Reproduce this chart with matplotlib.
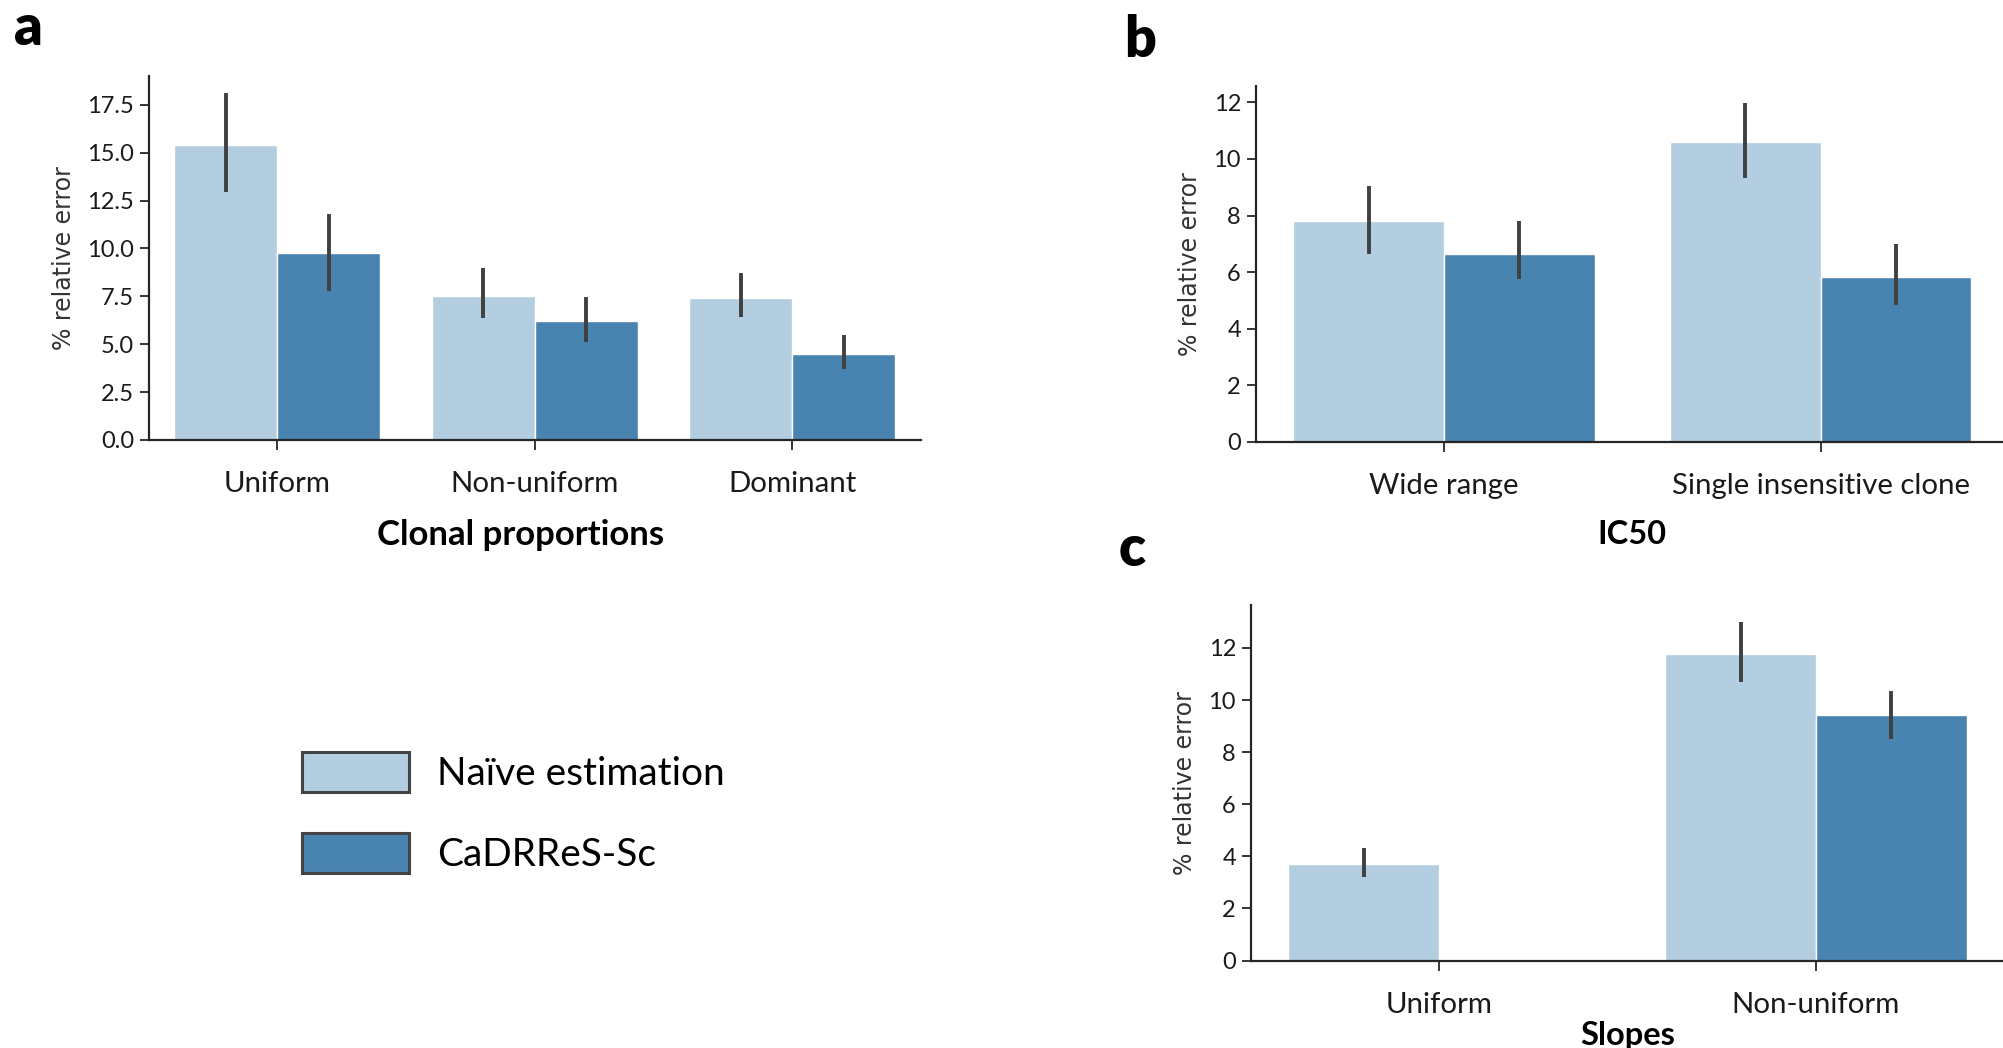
import numpy as np
import matplotlib
matplotlib.use("Agg")
import matplotlib.pyplot as plt
from matplotlib.patches import Patch

plt.rcParams['font.family'] = ['Lato', 'DejaVu Sans']

LIGHT = '#b3cee0'
DARK = '#4983b0'
ERR = '#404040'
SPINE = '#262626'

series_names = ['Naïve estimation', 'CaDRReS-Sc']

# a: clonal proportions
clonal_cats = ['Uniform', 'Non-uniform', 'Dominant']
clonal_naive = [15.40, 7.54, 7.43]
clonal_naive_lo = [12.95, 6.35, 6.41]
clonal_naive_hi = [18.10, 8.97, 8.70]
clonal_cadrres = [9.74, 6.21, 4.50]
clonal_cadrres_lo = [7.78, 5.13, 3.72]
clonal_cadrres_hi = [11.79, 7.45, 5.46]
clonal_yticks = [0, 2.5, 5, 7.5, 10, 12.5, 15, 17.5]

# b: IC50
ic50_cats = ['Wide range', 'Single insensitive clone']
ic50_naive = [7.79, 10.58]
ic50_naive_lo = [6.64, 9.31]
ic50_naive_hi = [9.04, 11.96]
ic50_cadrres = [6.64, 5.83]
ic50_cadrres_lo = [5.76, 4.85]
ic50_cadrres_hi = [7.82, 6.99]
ic50_yticks = [0, 2, 4, 6, 8, 10, 12]

# c: slopes (no CaDRReS-Sc bar for the uniform case)
slope_cats = ['Uniform', 'Non-uniform']
slope_naive = [3.70, 11.78]
slope_naive_lo = [3.20, 10.68]
slope_naive_hi = [4.34, 13.00]
slope_cadrres = [np.nan, 9.41]
slope_cadrres_lo = [np.nan, 8.52]
slope_cadrres_hi = [np.nan, 10.34]
slope_yticks = [0, 2, 4, 6, 8, 10, 12]


def grouped_bars(ax, cats, groups, yticks, fmt, xlabel, xlabel_size,
                 xlabel_pad):
    x = np.arange(len(cats))
    width = 0.4
    offsets = [-width / 2, width / 2]
    colors = [LIGHT, DARK]
    top = 0
    for (vals, lo, hi), off, col in zip(groups, offsets, colors):
        vals = np.asarray(vals, float)
        lo = np.asarray(lo, float)
        hi = np.asarray(hi, float)
        ok = ~np.isnan(vals)
        ax.bar(x[ok] + off, vals[ok], width, color=col,
               edgecolor='white', linewidth=1.0, zorder=2)
        ax.vlines(x[ok] + off, lo[ok], hi[ok], color=ERR,
                  linewidth=2.8, zorder=3)
        top = max(top, np.nanmax(hi))
    ax.set_xlim(-0.5, len(cats) - 0.5)
    ax.set_ylim(0, top * 1.05)
    ax.set_xticks(x)
    ax.set_xticklabels(cats, fontsize=21.2)
    ax.set_yticks(yticks)
    ax.set_yticklabels([fmt.format(v) for v in yticks], fontsize=17)
    ax.set_ylabel('% relative error', family='DejaVu Sans', fontsize=17,
                  color='#333333', labelpad=8)
    ax.set_xlabel(xlabel, fontsize=xlabel_size, fontweight='bold',
                  labelpad=xlabel_pad)
    for s in ('top', 'right'):
        ax.spines[s].set_visible(False)
    for s in ('left', 'bottom'):
        ax.spines[s].set_color(SPINE)
        ax.spines[s].set_linewidth(1.6)
    ax.tick_params(axis='x', length=7, width=1.3, color=SPINE, pad=15.5,
                   colors='#1a1a1a')
    ax.tick_params(axis='y', length=6.5, width=1.3, color=SPINE, pad=4,
                   colors='#1a1a1a')


fig = plt.figure(figsize=(20.03, 10.48), dpi=100)
W, H = 2003, 1048


def add_axes_px(left, right, top, bottom):
    return fig.add_axes([left / W, 1 - bottom / H, (right - left) / W,
                         (bottom - top) / H])


ax_a = add_axes_px(148.5, 921, 76, 440)
ax_b = add_axes_px(1255.5, 2009, 86.5, 442)
ax_c = add_axes_px(1250.5, 2004.5, 605, 960.6)

grouped_bars(ax_a, clonal_cats,
             [(clonal_naive, clonal_naive_lo, clonal_naive_hi),
              (clonal_cadrres, clonal_cadrres_lo, clonal_cadrres_hi)],
             clonal_yticks, '{:.1f}', 'Clonal proportions', 25, 18)
ax_a.xaxis.set_label_coords(0.482, -0.261)
ax_a.xaxis.label.set_va('center')
grouped_bars(ax_b, ic50_cats,
             [(ic50_naive, ic50_naive_lo, ic50_naive_hi),
              (ic50_cadrres, ic50_cadrres_lo, ic50_cadrres_hi)],
             ic50_yticks, '{:d}', 'IC50', 23.5, 15)
grouped_bars(ax_c, slope_cats,
             [(slope_naive, slope_naive_lo, slope_naive_hi),
              (slope_cadrres, slope_cadrres_lo, slope_cadrres_hi)],
             slope_yticks, '{:d}', 'Slopes', 23.5, 2.5)

# panel letters
for letter, (px, py) in zip('abc', [(14, 45), (1124, 57), (1119, 566)]):
    fig.text(px / W, 1 - py / H, letter, fontsize=40, fontweight='heavy',
             ha='left', va='baseline')

# shared legend
handles = [Patch(facecolor=c, edgecolor='#444444', linewidth=2.2)
           for c in (LIGHT, DARK)]
fig.legend(handles, series_names, loc='upper left',
           bbox_to_anchor=(302 / W, 1 - 752 / H), frameon=False,
           fontsize=28, handlelength=2.75, handleheight=1.2,
           handletextpad=0.72, labelspacing=1.05, borderpad=0,
           borderaxespad=0)

fig.savefig('out.png', dpi=100)
